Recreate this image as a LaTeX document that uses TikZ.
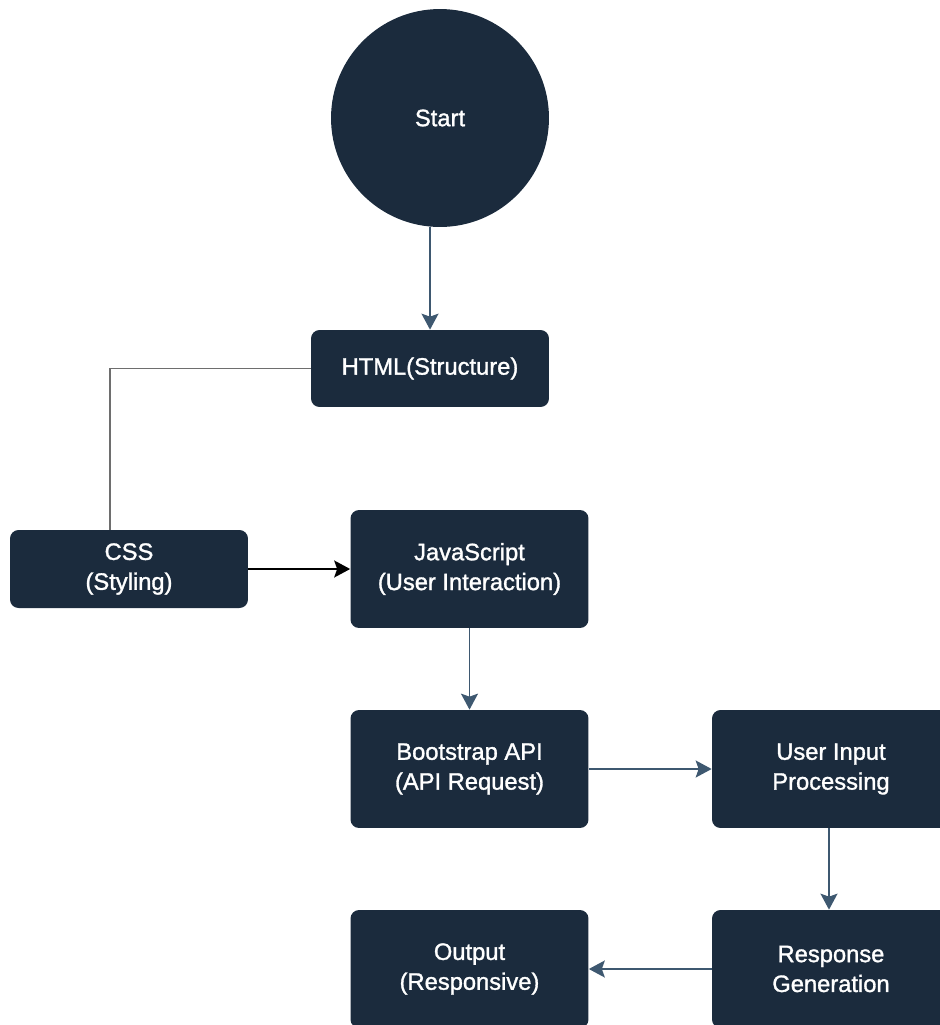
\documentclass[tikz,border=0pt]{standalone}
\usepackage{fontspec}
\setmainfont{Liberation Sans}
\newfontfamily\boxfont[RawFeature={embolden=1.3}]{Liberation Sans}
\usetikzlibrary{arrows.meta}
\definecolor{navy}{HTML}{1B2B3D}
\definecolor{linkblue}{HTML}{3E5870}
\definecolor{linkgray}{HTML}{6E6E6E}

\tikzset{
	block/.style={draw=none, fill=navy, rounded corners=0.17cm, text=white, align=center,
		minimum width=4.76cm, font=\boxfont\fontsize{13.5}{17}\selectfont},
	flow/.style={line width=1.1pt, draw=linkblue, -{Stealth[length=0.32cm, width=0.34cm, inset=0.06cm]}}
}

\begin{document}
\begin{tikzpicture}[x=0.02cm, y=-0.02cm]
	\useasboundingbox (0,0) rectangle (940,1025);
	\node[circle, fill=navy, text=white, minimum size=4.36cm, font=\boxfont\fontsize{13.5}{17}\selectfont] (start) at (440,118) {Start};
	\node[block, minimum height=1.54cm] (html) at (430,368.5) {HTML(Structure)};
	\node[block, minimum height=1.56cm] (css) at (129,569) {CSS\\(Styling)};
	\node[block, minimum height=2.36cm] (js) at (469.5,569) {JavaScript\\(User Interaction)};
	\node[block, minimum height=2.36cm] (boot) at (469.5,769) {Bootstrap API\\(API Request)};
	\node[block, minimum height=2.36cm] (user) at (831,769) {User Input\\Processing};
	\node[block, minimum height=2.36cm] (resp) at (831,969) {Response\\Generation};
	\node[block, minimum height=2.36cm] (out) at (469.5,969) {Output\\(Responsive)};
	\coordinate (bend) at (110,368.5);

	\draw[flow] (start.south -| html.north) -- (html.north);
	\draw[line width=1.1pt, linkgray] (html.west) -- (bend) -- (bend |- css.north);
	\draw[line width=1.1pt, black, -{Stealth[length=0.32cm, width=0.34cm, inset=0.06cm]}] (css.east) -- (js.west);
	\draw[flow] (js.south) -- (boot.north);
	\draw[flow] (boot.east) -- (user.west);
	\draw[flow] (user.south -| 829,0) -- (resp.north -| 829,0);
	\draw[flow] (resp.west) -- (out.east);
\end{tikzpicture}
\end{document}
